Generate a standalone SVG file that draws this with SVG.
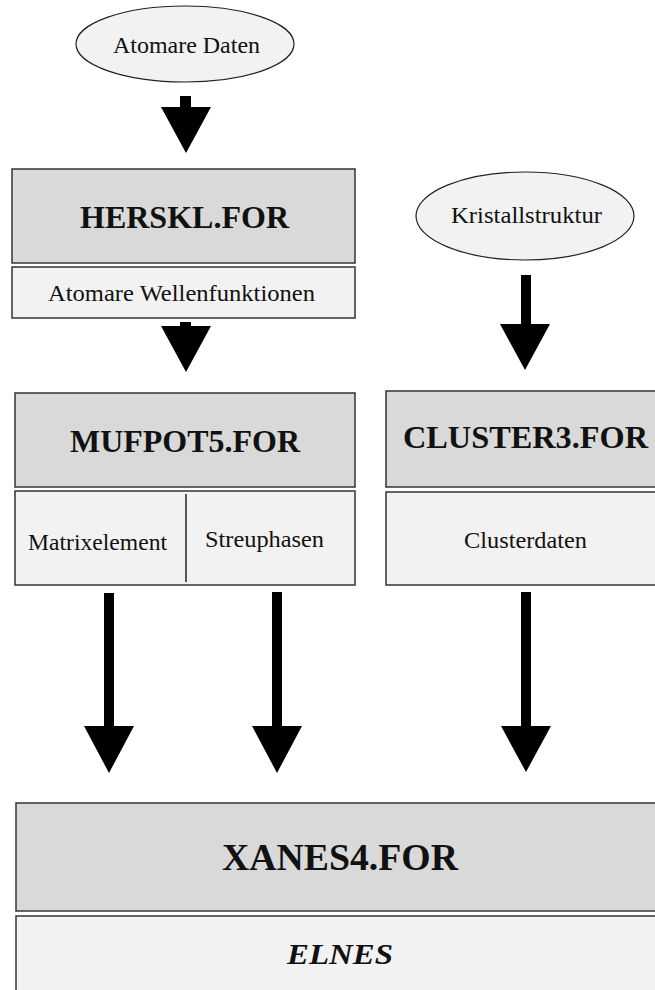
<svg xmlns="http://www.w3.org/2000/svg" width="655" height="990" viewBox="0 0 655 990">
<style>
.dark{fill:#d9d9d9;stroke:#333;stroke-width:1.5}
.light{fill:#f2f2f2;stroke:#333;stroke-width:1.5}
.ell{fill:#f2f2f2;stroke:#222;stroke-width:1.2}
.t{font-family:"Liberation Serif","Times New Roman",serif;font-size:24px;fill:#111;text-anchor:middle}
.b{font-family:"Liberation Serif","Times New Roman",serif;font-size:32px;font-weight:bold;fill:#111;text-anchor:middle}
.arr{fill:#000}
</style>
<rect width="655" height="990" fill="#fff"/>
<g id="atomare-daten">
<ellipse class="ell" cx="185" cy="44" rx="109" ry="38"/>
<text class="t" x="186.5" y="53" textLength="147" lengthAdjust="spacingAndGlyphs">Atomare Daten</text>
</g>
<g id="herskl">
<rect class="dark" x="12" y="169" width="343" height="94"/>
<text class="b" x="184.5" y="228" textLength="209" lengthAdjust="spacingAndGlyphs">HERSKL.FOR</text>
<rect class="light" x="12" y="267" width="343" height="51"/>
<text class="t" x="181.5" y="301" textLength="267" lengthAdjust="spacingAndGlyphs">Atomare Wellenfunktionen</text>
</g>
<g id="kristallstruktur">
<ellipse class="ell" cx="525" cy="216" rx="109" ry="44"/>
<text class="t" x="526.5" y="223" textLength="151" lengthAdjust="spacingAndGlyphs">Kristallstruktur</text>
</g>
<g id="mufpot5">
<rect class="dark" x="15" y="393" width="340" height="94"/>
<text class="b" x="185" y="452" textLength="230" lengthAdjust="spacingAndGlyphs">MUFPOT5.FOR</text>
<rect class="light" x="15" y="491" width="340" height="94"/>
<line x1="186" y1="494" x2="186" y2="582" stroke="#222" stroke-width="1.5"/>
<text class="t" x="97.5" y="550" textLength="139" lengthAdjust="spacingAndGlyphs">Matrixelement</text>
<text class="t" x="264.5" y="547" textLength="119" lengthAdjust="spacingAndGlyphs">Streuphasen</text>
</g>
<g id="cluster3">
<rect class="dark" x="386" y="391" width="280" height="96"/>
<text class="b" x="525.5" y="448" textLength="245" lengthAdjust="spacingAndGlyphs">CLUSTER3.FOR</text>
<rect class="light" x="386" y="492" width="280" height="93"/>
<text class="t" x="525.5" y="548" textLength="123" lengthAdjust="spacingAndGlyphs">Clusterdaten</text>
</g>
<g id="xanes4">
<rect class="dark" x="16" y="803" width="650" height="108"/>
<text class="b" x="340" y="870" style="font-size:38px" textLength="236" lengthAdjust="spacingAndGlyphs">XANES4.FOR</text>
<rect class="light" x="16" y="916" width="650" height="90"/>
<text class="b" x="340" y="964" style="font-size:30px;font-style:italic" textLength="106" lengthAdjust="spacingAndGlyphs">ELNES</text>
</g>
<g id="connectors">
<polygon class="arr" points="180,96 191,96 191,107 211,107 186,153 161,107 180,107"/>
<polygon class="arr" points="180,322 191,322 191,326 211,326 186,372 161,326 180,326"/>
<polygon class="arr" points="521,275 531,275 531,324 550,324 525,370 500,324 521,324"/>
<polygon class="arr" points="104,593 114,593 114,726 134,726 109,773 84,726 104,726"/>
<polygon class="arr" points="272,592 282,592 282,726 302,726 277,773 252,726 272,726"/>
<polygon class="arr" points="521,592 531,592 531,726 551,726 526,772 501,726 521,726"/>
</g>
</svg>
